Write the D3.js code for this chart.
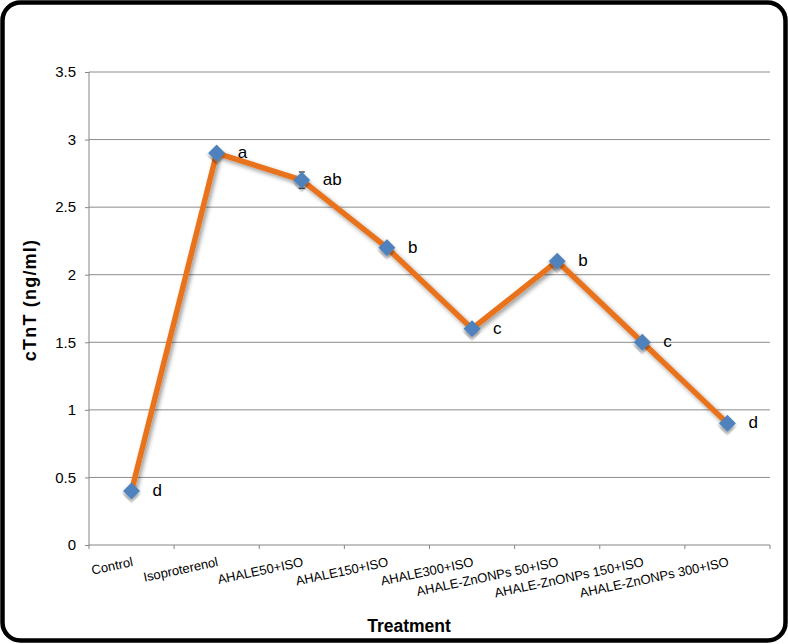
<!DOCTYPE html>
<html>
<head>
<meta charset="utf-8">
<script src="https://cdn.jsdelivr.net/npm/d3@7"></script>
<style>
  body { margin: 0; background: #fff; }
  svg { display: block; font-family: Arial, "Liberation Sans", sans-serif; }
</style>
</head>
<body>
<div id="chart"></div>
<script>
const treatments = ["Control", "Isoproterenol", "AHALE50+ISO", "AHALE150+ISO", "AHALE300+ISO",
  "AHALE-ZnONPs 50+ISO", "AHALE-ZnONPs 150+ISO", "AHALE-ZnONPs 300+ISO"];
const cTnT = [0.4, 2.9, 2.7, 2.2, 1.6, 2.1, 1.5, 0.9];
const errors = [0.03, 0.03, 0.06, 0.03, 0.03, 0.03, 0.03, 0.03];
const letters = ["d", "a", "ab", "b", "c", "b", "c", "d"];
const yTicks = [0, 0.5, 1, 1.5, 2, 2.5, 3, 3.5];

const svgWidth = 788;
const svgHeight = 644;
const margin = { top: 72, right: 18, bottom: 99, left: 89 };
const width = svgWidth - margin.left - margin.right;
const height = svgHeight - margin.top - margin.bottom;

const data = treatments.map(function(t, i) {
  return { name: t, value: cTnT[i], err: errors[i], letter: letters[i] };
});

const svg = d3.select("#chart")
  .append("svg")
  .attr("width", svgWidth)
  .attr("height", svgHeight);

const defs = svg.append("defs");
const shadow = defs.append("filter")
  .attr("id", "shadow")
  .attr("x", "-10%").attr("y", "-10%")
  .attr("width", "130%").attr("height", "130%");
shadow.append("feDropShadow")
  .attr("dx", 2).attr("dy", 2.5)
  .attr("stdDeviation", 2)
  .attr("flood-color", "#000")
  .attr("flood-opacity", 0.4);

// rounded frame
svg.append("rect")
  .attr("x", 2.5)
  .attr("y", 2.5)
  .attr("width", 783)
  .attr("height", 638)
  .attr("rx", 18)
  .attr("fill", "#fff")
  .attr("stroke", "#000")
  .attr("stroke-width", 4.5);

const g = svg.append("g")
  .attr("transform", "translate(" + margin.left + "," + margin.top + ")");

const xScale = d3.scaleBand()
  .domain(treatments)
  .range([0, width]);

const yScale = d3.scaleLinear()
  .domain([0, 3.5])
  .range([height, 0]);

// gridlines
g.append("g")
  .selectAll("line")
  .data(yTicks.slice(1))
  .enter()
  .append("line")
  .attr("x1", 0)
  .attr("x2", width)
  .attr("y1", function(d) { return yScale(d); })
  .attr("y2", function(d) { return yScale(d); })
  .attr("stroke", "#8c8c8c")
  .attr("stroke-width", 1);

const yAxis = d3.axisLeft(yScale)
  .tickValues(yTicks)
  .tickSize(4)
  .tickPadding(9)
  .tickFormat(function(d) { return d; });

const yAxisG = g.append("g").call(yAxis);
yAxisG.select(".domain").attr("stroke", "#868686").attr("d", "M0,0V" + height);
yAxisG.selectAll(".tick line").attr("stroke", "#868686");
yAxisG.selectAll(".tick text")
  .style("font-size", "15px")
  .style("font-family", "Arial, 'Liberation Sans', sans-serif")
  .attr("fill", "#000");

// x axis with ticks between categories
const xAxisG = g.append("g")
  .attr("transform", "translate(0," + height + ")");
xAxisG.append("line")
  .attr("x1", 0).attr("x2", width)
  .attr("stroke", "#868686");
xAxisG.selectAll(".xtick")
  .data(treatments.concat(["end"]))
  .enter()
  .append("line")
  .attr("x1", function(d, i) { return i * xScale.bandwidth(); })
  .attr("x2", function(d, i) { return i * xScale.bandwidth(); })
  .attr("y1", 0)
  .attr("y2", 4)
  .attr("stroke", "#868686");

xAxisG.selectAll(".xlabel")
  .data(treatments)
  .enter()
  .append("text")
  .attr("transform", function(d) {
    return "translate(" + (xScale(d) + xScale.bandwidth() / 2 + 2) + ",21) rotate(-12)";
  })
  .style("text-anchor", "end")
  .style("font-size", "13px")
  .attr("fill", "#000")
  .text(function(d) { return d; });

// line
const line = d3.line()
  .x(function(d) { return xScale(d.name) + xScale.bandwidth() / 2; })
  .y(function(d) { return yScale(d.value); });

g.append("path")
  .datum(data)
  .attr("d", line)
  .attr("fill", "none")
  .attr("stroke", "#E8731C")
  .attr("stroke-width", 5.5)
  .attr("stroke-linejoin", "round")
  .attr("filter", "url(#shadow)");

// error bars
const errG = g.append("g").selectAll("g")
  .data(data)
  .enter()
  .append("g")
  .attr("transform", function(d) {
    return "translate(" + (xScale(d.name) + xScale.bandwidth() / 2) + ",0)";
  });
errG.append("line")
  .attr("y1", function(d) { return yScale(d.value + d.err); })
  .attr("y2", function(d) { return yScale(d.value - d.err); })
  .attr("stroke", "#000");
errG.append("line")
  .attr("x1", -3).attr("x2", 3)
  .attr("y1", function(d) { return yScale(d.value + d.err); })
  .attr("y2", function(d) { return yScale(d.value + d.err); })
  .attr("stroke", "#000");
errG.append("line")
  .attr("x1", -3).attr("x2", 3)
  .attr("y1", function(d) { return yScale(d.value - d.err); })
  .attr("y2", function(d) { return yScale(d.value - d.err); })
  .attr("stroke", "#000");

// diamond markers
g.append("g").selectAll("path")
  .data(data)
  .enter()
  .append("path")
  .attr("d", d3.symbol().type(d3.symbolSquare).size(144))
  .attr("transform", function(d) {
    return "translate(" + (xScale(d.name) + xScale.bandwidth() / 2) + "," + yScale(d.value) + ") rotate(45)";
  })
  .attr("fill", "#4F81BD")
  .attr("filter", "url(#shadow)");

// significance letters
g.append("g").selectAll("text")
  .data(data)
  .enter()
  .append("text")
  .attr("x", function(d) { return xScale(d.name) + xScale.bandwidth() / 2 + 21; })
  .attr("y", function(d) { return yScale(d.value) + 5; })
  .style("font-size", "17px")
  .attr("fill", "#000")
  .text(function(d) { return d.letter; });

// axis titles
svg.append("text")
  .attr("x", 409)
  .attr("y", 632)
  .style("text-anchor", "middle")
  .style("font-size", "17.5px")
  .style("font-weight", "bold")
  .text("Treatment");

svg.append("text")
  .attr("transform", "translate(36," + 300 + ") rotate(-90)")
  .style("text-anchor", "middle")
  .style("font-size", "18px")
  .style("font-weight", "bold")
  .style("letter-spacing", "1.2px")
  .text("cTnT (ng/ml)");
</script>
</body>
</html>
